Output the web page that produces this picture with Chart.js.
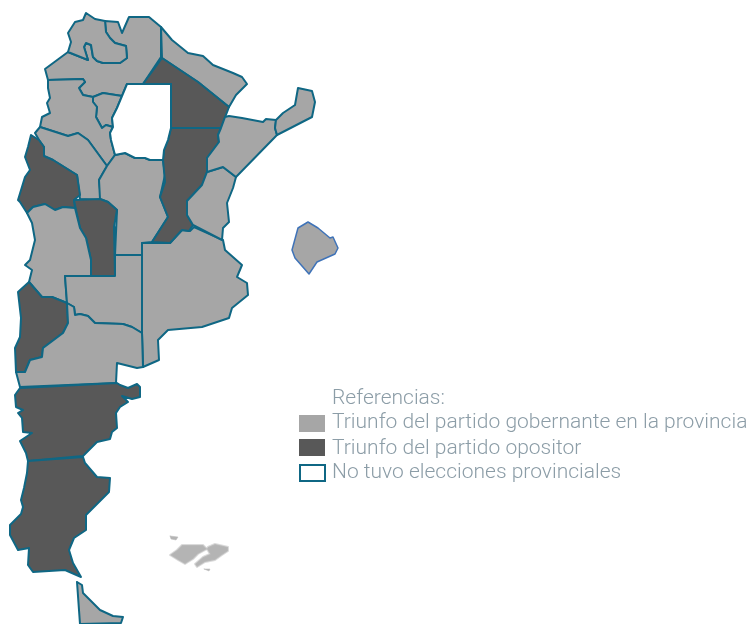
<!DOCTYPE html>
<html><head><meta charset="utf-8">
<script src="https://cdn.jsdelivr.net/npm/chart.js@4"></script>
<style>html,body{margin:0;padding:0;background:#fff}canvas{display:block;filter:blur(0.35px)}</style>
</head><body><canvas id="c" width="750" height="624"></canvas>
<script>
const LIGHT='#a6a6a6', DARK='#585858', EDGE='#0f6784', NONE='#ffffff', CITY='#3f73b8', ISLE='#b4b4b4', ISLE_EDGE='rgba(190,190,190,0.55)';
const legendTitle='Referencias:';
const legendLabels=['Triunfo del partido gobernante en la provincia','Triunfo del partido opositor','No tuvo elecciones provinciales'];

const santiago=[[127,84],[143,84],[171,84],[171,128],[168,140],[164,150],[163,160],[150,160],[145,158],[135,158],[125,153],[115,155],[111,140],[110,133],[113,127],[112,118],[117,108],[122,96],[127,84]];
const salta=[[105,21],[118,22],[122,33],[129,17],[149,17],[161,27],[161,57],[143,84],[127,84],[122,96],[103,93],[93,97],[83,95],[79,88],[85,82],[83,79],[48,80],[45,69],[68,52],[88,60],[84,47],[86,43],[91,45],[93,57],[97,61],[103,63],[120,63],[127,58],[126,46],[115,43],[110,38],[106,32],[105,21]];
const jujuy=[[68,52],[71,42],[68,33],[75,22],[83,20],[86,13],[95,19],[105,21],[106,32],[110,38],[115,43],[126,46],[127,58],[120,63],[103,63],[97,61],[93,57],[91,45],[86,43],[84,47],[88,60],[68,52]];
const tucuman=[[93,97],[103,93],[122,96],[117,108],[112,118],[113,127],[106,125],[102,128],[96,117],[97,107],[93,102],[93,97]];
const catamarca=[[48,80],[83,79],[85,82],[79,88],[83,95],[93,97],[93,102],[97,107],[96,117],[102,128],[106,125],[113,127],[110,133],[111,140],[115,155],[107,166],[88,140],[78,133],[68,136],[40,127],[42,117],[50,113],[47,103],[50,98],[48,88],[48,80]];
const larioja=[[40,127],[68,136],[78,133],[88,140],[107,166],[99,180],[101,200],[80,199],[77,175],[53,160],[44,156],[44,147],[39,140],[35,133],[40,127]];
const sanjuan=[[31,135],[39,140],[44,147],[44,156],[53,160],[77,175],[80,195],[74,200],[75,208],[63,207],[55,210],[45,204],[33,207],[27,213],[20,202],[18,200],[25,177],[30,170],[25,157],[28,147],[31,135]];
const cordoba=[[107,166],[115,155],[125,153],[135,158],[145,158],[150,160],[163,160],[165,175],[160,197],[168,217],[152,242],[142,243],[142,255],[115,255],[117,210],[108,202],[100,199],[99,180],[107,166]];
const sanluis=[[74,200],[100,199],[108,202],[117,210],[114,227],[115,276],[91,276],[91,260],[86,238],[80,228],[76,210],[74,200]];
const mendoza=[[27,213],[33,207],[45,204],[55,210],[63,207],[75,208],[80,228],[86,238],[91,260],[91,276],[65,276],[67,303],[52,297],[42,297],[29,282],[32,270],[25,265],[30,260],[35,240],[32,223],[27,213]];
const lapampa=[[65,276],[115,276],[115,255],[142,255],[142,333],[132,327],[123,324],[95,323],[88,316],[80,314],[75,315],[74,307],[67,303],[65,276]];
const buenosaires=[[142,243],[170,243],[182,230],[190,231],[194,227],[223,240],[225,250],[242,265],[237,277],[247,283],[248,295],[232,308],[229,318],[202,327],[168,330],[158,340],[159,360],[143,367],[142,333],[142,243]];
const neuquen=[[29,282],[42,297],[52,297],[67,303],[68,323],[63,333],[43,348],[42,357],[30,360],[25,372],[16,372],[15,348],[20,337],[21,318],[18,292],[29,282]];
const rionegro=[[67,303],[74,307],[75,315],[80,314],[88,316],[95,323],[123,324],[132,327],[142,333],[143,367],[137,368],[117,363],[116,383],[20,387],[16,372],[25,372],[30,360],[42,357],[43,348],[63,333],[68,323],[67,303]];
const chubut=[[20,388],[117,383],[120,385],[128,388],[137,384],[140,387],[140,397],[132,399],[122,396],[128,402],[120,407],[116,413],[117,428],[112,432],[110,439],[97,442],[83,456],[28,461],[26,453],[20,441],[32,433],[23,432],[22,418],[18,413],[23,410],[16,407],[15,395],[20,388]];
const santacruz=[[28,461],[83,457],[85,463],[97,477],[110,478],[109,492],[86,515],[86,530],[74,538],[69,550],[73,563],[81,577],[65,570],[33,572],[28,565],[29,548],[18,550],[10,535],[10,525],[21,514],[23,507],[21,500],[24,488],[27,473],[28,461]];
const tierradelfuego=[[77,582],[82,585],[83,593],[100,610],[113,616],[123,617],[121,623],[80,624],[77,582]];
const formosa=[[161,27],[172,40],[188,53],[203,56],[213,65],[233,73],[242,77],[247,84],[236,95],[229,107],[198,82],[162,58],[161,27]];
const chaco=[[162,58],[198,82],[229,107],[221,128],[171,128],[171,84],[143,84],[162,58]];
const santafe=[[171,128],[221,128],[218,135],[219,142],[207,158],[207,172],[202,185],[187,201],[187,215],[193,225],[189,231],[182,230],[170,243],[152,242],[168,217],[160,197],[165,182],[163,160],[164,150],[168,140],[171,128]];
const entrerios=[[207,172],[223,167],[236,177],[233,188],[227,203],[229,222],[223,228],[222,240],[193,225],[187,215],[187,201],[202,185],[207,172]];
const corrientes=[[221,128],[225,117],[229,116],[242,118],[263,122],[266,119],[276,120],[275,128],[277,135],[236,177],[223,167],[207,172],[207,158],[219,142],[218,135],[221,128]];
const misiones=[[276,120],[283,113],[295,105],[298,88],[312,91],[315,102],[312,117],[277,135],[275,128],[276,120]];
const caba=[[308,222],[318,228],[330,238],[333,237],[338,248],[335,254],[317,262],[309,274],[295,258],[292,250],[298,228],[308,222]];
const malvinasOeste=[[182,545],[203,545],[207,549],[198,554],[193,559],[185,564],[178,560],[170,555],[177,550],[182,545]];
const malvinasEste=[[208,547],[215,544],[228,547],[228,551],[222,555],[215,560],[205,562],[197,567],[195,564],[203,557],[210,554],[207,549],[208,547]];
const malvinasNorte=[[170,536],[178,537],[176,540],[171,539],[170,536]];
const malvinasSur=[[204,569],[210,569],[209,571],[204,569]];

const regions=[
 [salta,LIGHT,EDGE,2],[jujuy,LIGHT,EDGE,2],[tucuman,LIGHT,EDGE,2],[catamarca,LIGHT,EDGE,2],
 [larioja,LIGHT,EDGE,2],[sanjuan,DARK,EDGE,2],[cordoba,LIGHT,EDGE,2],[sanluis,DARK,EDGE,2],[mendoza,LIGHT,EDGE,2],
 [lapampa,LIGHT,EDGE,2],[buenosaires,LIGHT,EDGE,2],[neuquen,DARK,EDGE,2],[rionegro,LIGHT,EDGE,2],[chubut,DARK,EDGE,2],
 [santacruz,DARK,EDGE,2],[tierradelfuego,LIGHT,EDGE,2],[formosa,LIGHT,EDGE,2],[chaco,DARK,EDGE,2],[santafe,DARK,EDGE,2],
 [entrerios,LIGHT,EDGE,2],[corrientes,LIGHT,EDGE,2],[misiones,LIGHT,EDGE,2],[santiago,NONE,EDGE,2],[caba,LIGHT,CITY,1.5],
 [malvinasOeste,ISLE,ISLE_EDGE,2],[malvinasEste,ISLE,ISLE_EDGE,2],[malvinasNorte,ISLE,ISLE_EDGE,1],[malvinasSur,ISLE,ISLE_EDGE,1]
];

const referencePlugin={id:'references',afterDraw(chart){
  const c=chart.ctx; c.save();
  c.font='300 21px Roboto'; c.fillStyle='#8c9da7'; c.textBaseline='alphabetic';
  c.fillText(legendTitle,332,404);
  const rows=[[428,415,LIGHT],[454,439,DARK],[478,465,null]];
  legendLabels.forEach((t,i)=>{
    const r=rows[i];
    c.fillStyle='#8c9da7'; c.fillText(t,332,r[0]);
    if(r[2]){c.fillStyle=r[2];c.fillRect(299,r[1],26,17);}
    else{c.strokeStyle=EDGE;c.lineWidth=2;c.strokeRect(300,r[1],25,16);}
  });
  c.restore();
}};

new Chart(document.getElementById('c'),{
  type:'scatter',
  data:{datasets:regions.map(([pts,fillC,edge,w],i)=>({
    data:pts.map(([x,y])=>({x,y})),
    showLine:true,fill:'shape',tension:0,pointRadius:0,
    backgroundColor:fillC,borderColor:edge,borderWidth:w,borderJoinStyle:'round',borderCapStyle:'round',
    order:regions.length-i
  }))},
  options:{responsive:false,animation:false,events:[],
    layout:{padding:0},
    plugins:{legend:{display:false},tooltip:{enabled:false}},
    scales:{
      x:{type:'linear',display:false,min:0,max:750},
      y:{type:'linear',display:false,min:0,max:624,reverse:true}
    }},
  plugins:[referencePlugin]
});
</script></body></html>
